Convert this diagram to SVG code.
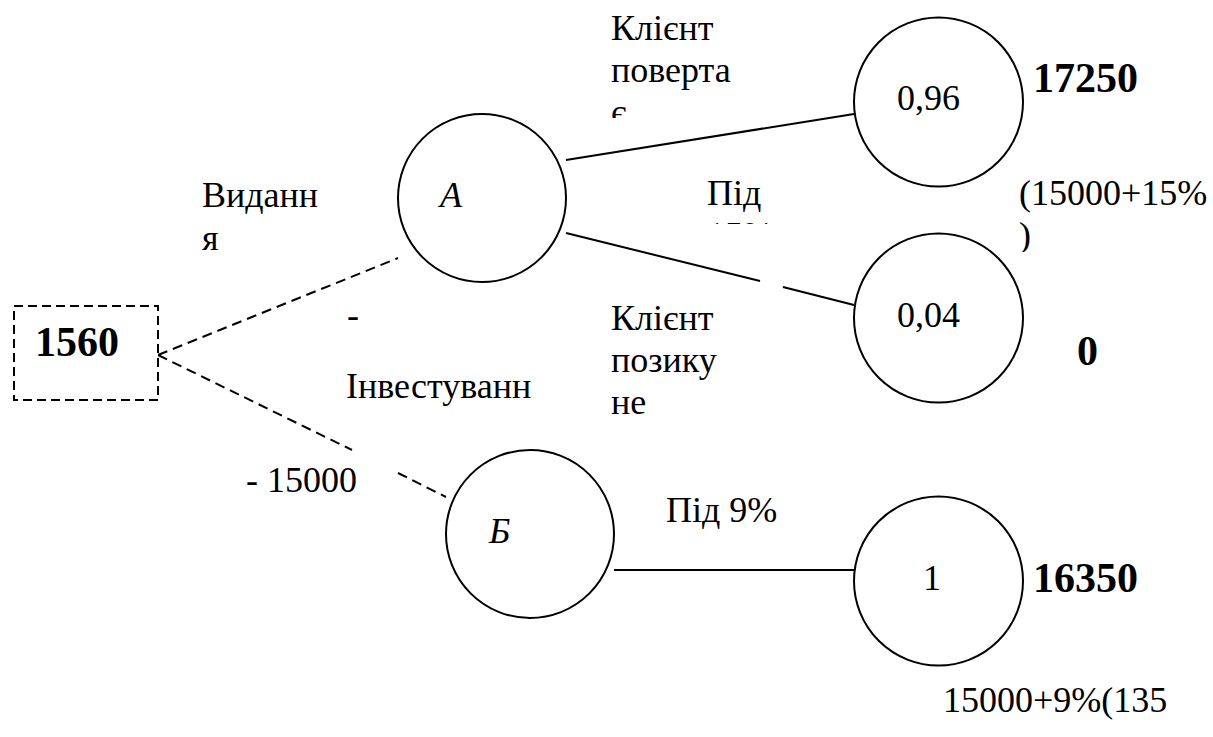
<svg xmlns="http://www.w3.org/2000/svg" width="1213" height="737" viewBox="0 0 1213 737" font-family="'Liberation Serif', 'Times New Roman', serif">
  <style>
    text { font-family: "Liberation Serif", "Times New Roman", serif; fill: #000; }
    .t { font-size: 36px; }
    .b { font-size: 42px; font-weight: bold; }
    .i { font-style: italic; }
    .node { fill: #fff; stroke: #000; stroke-width: 2; }
    .box { fill: #fff; stroke: #000; stroke-width: 2; stroke-dasharray: 9 5; }
    .solid { stroke: #000; stroke-width: 2; fill: none; }
    .dash { stroke: #000; stroke-width: 2; fill: none; stroke-dasharray: 10 6; }
  </style>
  <defs>
    <!-- text frames cut off their last lines -->
    <clipPath id="clipReturn"><rect x="600" y="0" width="140" height="118"/></clipPath>
    <clipPath id="clipRate15"><rect x="690" y="170" width="100" height="54"/></clipPath>
    <clipPath id="clipSum15"><rect x="1010" y="170" width="203" height="82"/></clipPath>
  </defs>
  <rect width="1213" height="737" fill="#fff"/>

  <g id="connectors">
    <line class="dash" x1="158" y1="355" x2="398" y2="258"/>
    <line class="dash" x1="158" y1="355" x2="352" y2="450"/>
    <line class="dash" x1="398" y1="473" x2="446" y2="497"/>
    <line class="solid" x1="566" y1="160" x2="854" y2="114"/>
    <line class="solid" x1="566" y1="233" x2="760" y2="281"/>
    <line class="solid" x1="783" y1="287" x2="854" y2="305"/>
    <line class="solid" x1="614" y1="570" x2="854" y2="570"/>
  </g>

  <g id="root">
    <rect class="box" x="14" y="306" width="144" height="94"/>
    <text class="b" x="35" y="356" font-family="'Liberation Serif', serif">1560</text>
  </g>

  <g id="nodeA">
    <circle class="node" cx="482" cy="198" r="84"/>
    <text class="t i" x="440" y="207" font-family="'Liberation Serif', serif">А</text>
  </g>
  <g id="nodeB">
    <circle class="node" cx="530" cy="534" r="84"/>
    <text class="t i" x="489" y="543" font-family="'Liberation Serif', serif">Б</text>
  </g>
  <g id="leaf096">
    <circle class="node" cx="938.5" cy="102" r="84.5"/>
    <text class="t" x="897" y="110" font-family="'Liberation Serif', serif">0,96</text>
  </g>
  <g id="leaf004">
    <circle class="node" cx="938.5" cy="318" r="84.5"/>
    <text class="t" x="897" y="327" font-family="'Liberation Serif', serif">0,04</text>
  </g>
  <g id="leaf1">
    <circle class="node" cx="938.5" cy="581" r="84.5"/>
    <text class="t" x="923" y="590" font-family="'Liberation Serif', serif">1</text>
  </g>

  <g id="labels" font-family="'Liberation Serif', serif">
    <g clip-path="url(#clipReturn)">
      <text class="t" x="611" y="40">Клієнт</text>
      <text class="t" x="611" y="82">поверта</text>
      <text class="t" x="611" y="124">є</text>
    </g>
    <text class="t" x="202" y="207">Виданн</text>
    <text class="t" x="202" y="250">я</text>
    <g clip-path="url(#clipRate15)">
      <text class="t" x="707" y="205">Під</text>
      <text class="t" x="707" y="247">15%</text>
    </g>
    <text class="t" x="347" y="327">-</text>
    <text class="t" x="346" y="398">Інвестуванн</text>
    <text class="t" x="611" y="330">Клієнт</text>
    <text class="t" x="611" y="372">позику</text>
    <text class="t" x="611" y="414">не</text>
    <text class="t" x="246" y="492">- 15000</text>
    <text class="t" x="666" y="522">Під 9%</text>
    <g clip-path="url(#clipSum15)">
      <text class="t" x="1019" y="205">(15000+15%</text>
      <text class="t" x="1019" y="247">)</text>
    </g>
    <text class="b" x="1033" y="92">17250</text>
    <text class="b" x="1077" y="365">0</text>
    <text class="b" x="1033" y="592">16350</text>
    <text class="t" x="943" y="712">15000+9%(135</text>
  </g>
</svg>
